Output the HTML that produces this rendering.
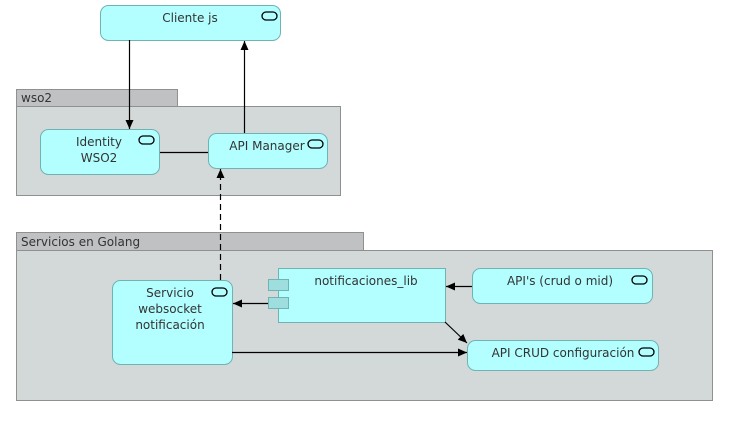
<!DOCTYPE html>
<html><head><meta charset="utf-8"><style>
body{margin:0;background:#fff;width:738px;height:419px;overflow:hidden;font-family:"DejaVu Sans","Liberation Sans",sans-serif;}
</style></head><body>
<svg width="738" height="419" xmlns="http://www.w3.org/2000/svg" font-family="DejaVu Sans, Liberation Sans, sans-serif" font-size="12" fill="#333">
<defs>
<marker id="a" markerWidth="10" markerHeight="10" refX="9" refY="5" orient="auto" markerUnits="userSpaceOnUse"><path d="M0,1 L9,5 L0,9 z" fill="#000"/></marker>
</defs>
<rect x="16.5" y="89.5" width="161" height="17" fill="#bfc1c2" stroke="#909090"/>
<rect x="16.5" y="106.5" width="324" height="89" fill="#d3d8d8" stroke="#909090"/>
<text x="21" y="102" fill="#333">wso2</text>
<rect x="16.5" y="232.5" width="347" height="18" fill="#bfc1c2" stroke="#909090"/>
<rect x="16.5" y="250.5" width="696" height="150" fill="#d3d8d8" stroke="#909090"/>
<text x="21" y="246" fill="#333">Servicios en Golang</text>

<g fill="#b3ffff" stroke="#6fb3b3">
<rect x="100.5" y="5.5" width="180" height="35" rx="8"/>
<rect x="40.5" y="129.5" width="119" height="45" rx="8"/>
<rect x="208.5" y="133.5" width="119" height="35" rx="8"/>
<rect x="112.5" y="280.5" width="120" height="84" rx="8"/>
<rect x="278.5" y="268.5" width="167" height="54"/>
<rect x="268.5" y="279.5" width="20" height="11" fill="#9fdede"/>
<rect x="268.5" y="297.5" width="20" height="11" fill="#9fdede"/>
<rect x="472.5" y="268.5" width="180" height="35" rx="8"/>
<rect x="467.5" y="340.5" width="191" height="30" rx="8"/>
</g>
<g fill="none" stroke="#000" stroke-width="1.3">
<rect x="262" y="12" width="15" height="8" rx="4"/>
<rect x="139" y="136" width="15" height="8" rx="4"/>
<rect x="308" y="140" width="15" height="8" rx="4"/>
<rect x="212" y="288" width="15" height="8" rx="4"/>
<rect x="632" y="276" width="15" height="8" rx="4"/>
<rect x="639" y="348" width="15" height="8" rx="4"/>
</g>
<text x="190" y="22" text-anchor="middle">Cliente js</text>
<text x="99" y="146" text-anchor="middle">Identity</text>
<text x="99" y="162" text-anchor="middle">WSO2</text>
<text x="267" y="150" text-anchor="middle">API Manager</text>
<text x="170" y="297" text-anchor="middle">Servicio</text>
<text x="170" y="313" text-anchor="middle">websocket</text>
<text x="170" y="329" text-anchor="middle">notificación</text>
<text x="366" y="285" text-anchor="middle">notificaciones_lib</text>
<text x="560" y="285" text-anchor="middle">API's (crud o mid)</text>
<text x="563" y="357" text-anchor="middle">API CRUD configuración</text>

<g stroke="#000" stroke-width="1.2" fill="none">
<line x1="129.5" y1="40" x2="129.5" y2="129" marker-end="url(#a)"/>
<line x1="244.5" y1="133" x2="244.5" y2="41" marker-end="url(#a)"/>
<line x1="160" y1="152.5" x2="208" y2="152.5"/>
<line x1="220.5" y1="280" x2="220.5" y2="169" stroke-dasharray="6,4" marker-end="url(#a)"/>
<line x1="472" y1="286.5" x2="446" y2="286.5" marker-end="url(#a)"/>
<line x1="268" y1="303.5" x2="233" y2="303.5" marker-end="url(#a)"/>
<line x1="445" y1="322" x2="467" y2="343" marker-end="url(#a)"/>
<line x1="232" y1="352.5" x2="467" y2="352.5" marker-end="url(#a)"/>
</g>
</svg>
</body></html>
